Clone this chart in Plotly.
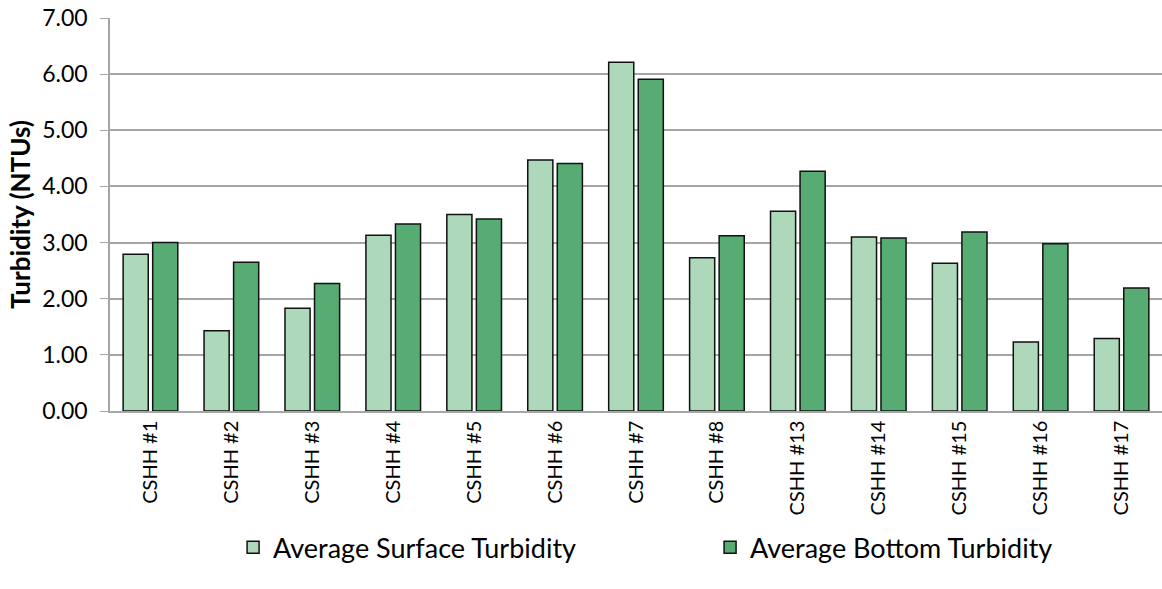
import plotly.graph_objects as go

categories = ["CSHH #1", "CSHH #2", "CSHH #3", "CSHH #4", "CSHH #5", "CSHH #6", "CSHH #7",
              "CSHH #8", "CSHH #13", "CSHH #14", "CSHH #15", "CSHH #16", "CSHH #17"]
surface = [2.79, 1.43, 1.83, 3.13, 3.50, 4.47, 6.21, 2.73, 3.56, 3.10, 2.63, 1.23, 1.29]
bottom = [3.00, 2.65, 2.27, 3.33, 3.42, 4.41, 5.91, 3.12, 4.27, 3.08, 3.19, 2.98, 2.19]
y_ticks = [0, 1, 2, 3, 4, 5, 6, 7]

FONT = "Lato"

fig = go.Figure()
fig.add_trace(go.Bar(x=categories, y=surface, name="Average Surface Turbidity",
                     marker=dict(color="#AED8BA", line=dict(color="#111111", width=1.5))))
fig.add_trace(go.Bar(x=categories, y=bottom, name="Average Bottom Turbidity",
                     marker=dict(color="#57AC74", line=dict(color="#111111", width=1.5))))

fig.update_layout(
    width=1162, height=589,
    margin=dict(l=110, r=0, t=18, b=178, autoexpand=False),
    paper_bgcolor="white", plot_bgcolor="white",
    barmode="group", bargap=0.27, bargroupgap=0.15,
    font=dict(family=FONT, color="#000000"),
    legend=dict(orientation="h", x=0.117, xanchor="left", y=-0.348, yanchor="middle",
                font=dict(size=27, family=FONT), itemwidth=30, entrywidth=432,
                tracegroupgap=0),
    showlegend=True,
)
fig.update_yaxes(range=[0, 7], tickvals=y_ticks, tickformat=".2f",
                 showgrid=True, gridcolor="#A6A6A6", gridwidth=1.5,
                 showline=True, linecolor="#A6A6A6", linewidth=1.5,
                 ticks="outside", ticklen=8, tickcolor="#A6A6A6",
                 ticklabelstandoff=8,
                 tickfont=dict(size=23, family=FONT),
                 title=dict(text="<b>Turbidity (NTUs)</b>", font=dict(size=26, family=FONT), standoff=4),
                 zeroline=False)
fig.update_xaxes(showline=True, linecolor="#A6A6A6", linewidth=1.5,
                 tickangle=-90, tickfont=dict(size=20, family=FONT), ticks="")

fig.write_html("out.html", config={"displayModeBar": False},
               post_script="document.body.style.margin='0';document.body.style.overflow='hidden';")
